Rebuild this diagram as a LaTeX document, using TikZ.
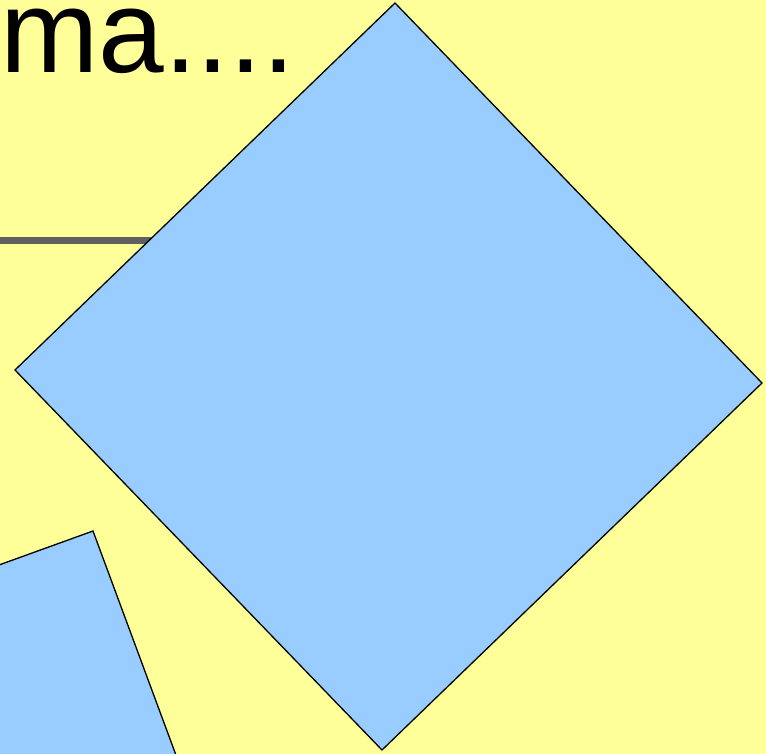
\documentclass[tikz,border=0pt]{standalone}
\usepackage{fontspec}
\setmainfont{Liberation Sans}
\usetikzlibrary{positioning}
\definecolor{slideyellow}{HTML}{FFFF99}
\definecolor{shapeblue}{HTML}{99CCFF}
\definecolor{rulegray}{HTML}{606060}

\begin{document}
\begin{tikzpicture}[x=1pt, y=-1pt,
    panel/.style={fill=shapeblue, draw=black, line width=1.3pt, line join=miter}]
    % Background
    \fill[slideyellow] (0,0) rectangle (766,754);
    \useasboundingbox (0,0) rectangle (766,754);
    \clip (0,0) rectangle (766,754);
    % Title
    \node[anchor=base west, inner sep=0pt, font=\fontsize{118}{120}\selectfont] (title) at (0,73) {ma....};
    % Rule
    \draw[rulegray, line width=7pt] (-5,240.5) -- (200,240.5);
    % Tilted squares
    \draw[panel] (395,3) -- (762,383) -- (382,750) -- (15,370) -- cycle;
    \draw[panel] (-120,608) -- (93,531) -- (200,820) -- (-20,900) -- cycle;
\end{tikzpicture}
\end{document}
